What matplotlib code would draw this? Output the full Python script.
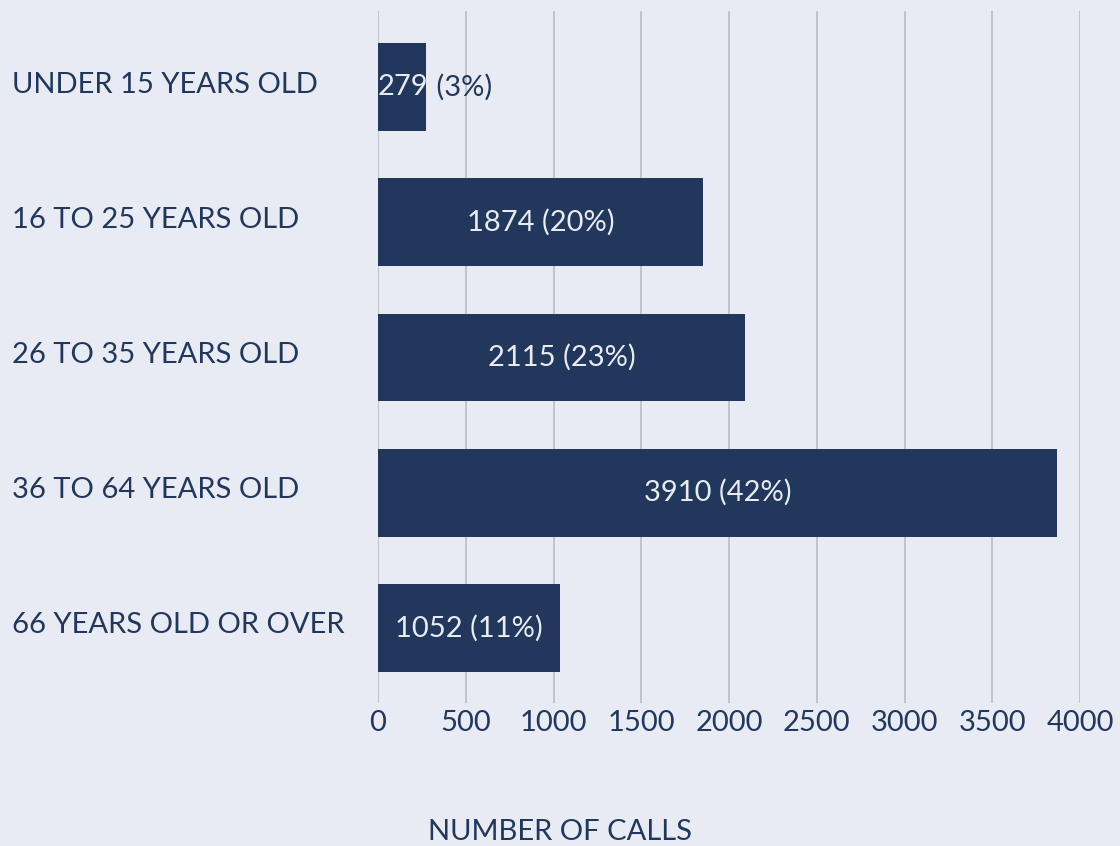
import matplotlib
matplotlib.use("Agg")
import matplotlib.pyplot as plt
from matplotlib.transforms import ScaledTranslation

categories = ["UNDER 15 YEARS OLD", "16 TO 25 YEARS OLD", "26 TO 35 YEARS OLD",
              "36 TO 64 YEARS OLD", "66 YEARS OLD OR OVER"]
calls = [279, 1874, 2115, 3910, 1052]
percents = [3, 20, 23, 42, 11]
bar_lengths = [274, 1852, 2091, 3869, 1037]  # bar lengths as drawn in the picture
xticks = [0, 500, 1000, 1500, 2000, 2500, 3000, 3500, 4000]

BG = "#e8ebf3"
NAVY = "#21375b"
GRID = "#b9bcc4"
FONT = ["Lato", "DejaVu Sans"]
FS = 21

plt.rcParams["font.family"] = FONT

fig = plt.figure(figsize=(11.2, 8.46), dpi=100, facecolor=BG)
ax = fig.add_axes([378/1120, 1-703/846, 702/1120, 692/846], facecolor=BG)

ypos = list(range(len(categories)))
bars = ax.barh(ypos, bar_lengths, height=0.65, color=NAVY, zorder=2)

ax.set_xlim(0, 4000)
ax.set_ylim(4.555, -0.562)
ax.set_xticks(xticks)
ax.set_xticklabels([str(t) for t in xticks])
ax.set_yticks(ypos)
ax.set_yticklabels(categories, ha="left")
ax.tick_params(axis="y", length=0, pad=366*0.72, labelsize=FS, labelcolor=NAVY)
ax.tick_params(axis="x", length=0, pad=5, labelsize=FS, labelcolor=NAVY)
ax.xaxis.grid(True, color=GRID, linewidth=1.2, zorder=0)
ax.set_axisbelow(True)
for s in ax.spines.values():
    s.set_visible(False)

shift = ScaledTranslation(0, 5/100, fig.dpi_scale_trans)
for lbl in ax.get_yticklabels():
    lbl.set_transform(lbl.get_transform() + shift)

for i, (b, c, p, L) in enumerate(zip(bars, calls, percents, bar_lengths)):
    if i == 0:
        t1 = ax.text(0, i, f"{c}", ha="left", va="center", color=BG,
                     fontsize=FS, zorder=3)
        ax.annotate(f" ({p}%)", xy=(1, 0.5), xycoords=t1, ha="left",
                    va="center", color=NAVY, fontsize=FS, zorder=3)
    else:
        ax.text(L/2, i, f"{c} ({p}%)", ha="center", va="center", color=BG,
                fontsize=FS, zorder=3)

fig.text(0.5, 1-832/846, "NUMBER OF CALLS", ha="center", va="center",
         color=NAVY, fontsize=FS)

fig.savefig("out.png", dpi=100, facecolor=BG)
